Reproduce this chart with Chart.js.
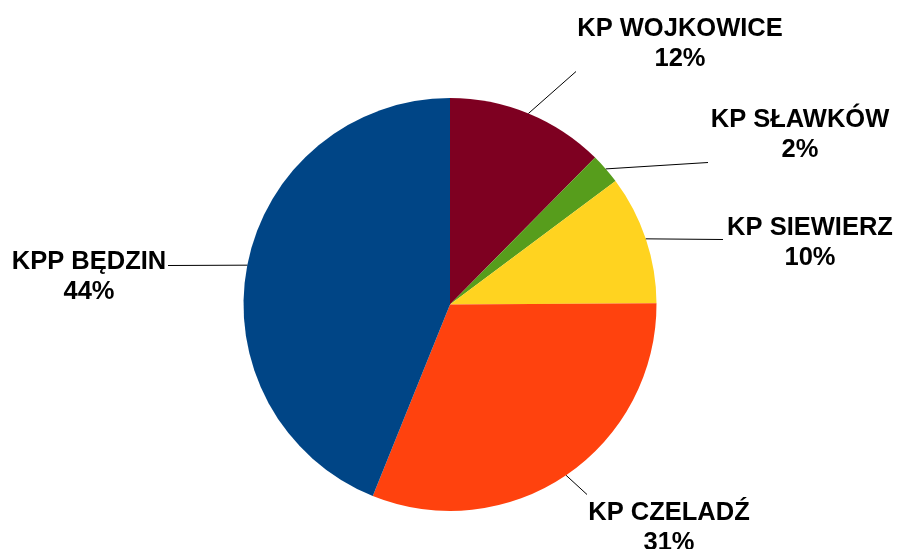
<!DOCTYPE html>
<html>
<head>
<meta charset="utf-8">
<script src="https://cdn.jsdelivr.net/npm/chart.js@4/dist/chart.umd.min.js"></script>
<style>
  body { margin: 0; background: #fff; }
  #wrap { width: 900px; height: 549px; }
</style>
</head>
<body>
<div id="wrap"><canvas id="pie" width="900" height="549"></canvas></div>
<script>
const units = ['KP WOJKOWICE', 'KP SŁAWKÓW', 'KP SIEWIERZ', 'KP CZELADŹ', 'KPP BĘDZIN']
const shares = [12.4, 2.4, 10.1, 31.2, 43.9]
const colours = ['#7e0021', '#579d1c', '#ffd320', '#ff420e', '#004586']

// where each callout goes, relative to the pie centre: line end, text centre x, first baseline
const callouts = [
  { lx: 126, ly: -233, tx: 230, ty: -269 },
  { lx: 258, ly: -142, tx: 350, ty: -178 },
  { lx: 273, ly: -65, tx: 360, ty: -70 },
  { lx: 137, ly: 190, tx: 219, ty: 215 },
  { lx: -282, ly: -39, tx: -361, ty: -36 }
]

const calloutPlugin = {
  id: 'callouts',
  afterDatasetsDraw(chart) {
    const ctx = chart.ctx
    const arcs = chart.getDatasetMeta(0).data
    const total = shares.reduce((a, b) => a + b, 0)
    ctx.save()
    ctx.font = 'bold 25.5px "Liberation Sans", Arial, sans-serif'
    ctx.fillStyle = '#000'
    ctx.strokeStyle = '#000'
    ctx.lineWidth = 1
    ctx.textAlign = 'center'
    ctx.textBaseline = 'alphabetic'
    arcs.forEach((arc, i) => {
      const c = callouts[i]
      const mid = (arc.startAngle + arc.endAngle) / 2
      const sx = arc.x + arc.outerRadius * Math.cos(mid)
      const sy = arc.y + arc.outerRadius * Math.sin(mid)
      ctx.beginPath()
      ctx.moveTo(sx, sy)
      ctx.lineTo(arc.x + c.lx, arc.y + c.ly)
      ctx.stroke()
      const pct = Math.round(shares[i] / total * 100) + '%'
      ctx.fillText(units[i], arc.x + c.tx, arc.y + c.ty)
      ctx.fillText(pct, arc.x + c.tx, arc.y + c.ty + 30)
    })
    ctx.restore()
  }
}

new Chart(document.getElementById('pie').getContext('2d'), {
  type: 'pie',
  data: {
    labels: units,
    datasets: [{
      data: shares,
      backgroundColor: colours,
      borderWidth: 0
    }]
  },
  options: {
    responsive: false,
    animation: false,
    layout: { padding: { top: 98, bottom: 38, left: 0, right: 0 } },
    plugins: {
      legend: { display: false },
      tooltip: { enabled: false }
    }
  },
  plugins: [calloutPlugin]
})
</script>
</body>
</html>
